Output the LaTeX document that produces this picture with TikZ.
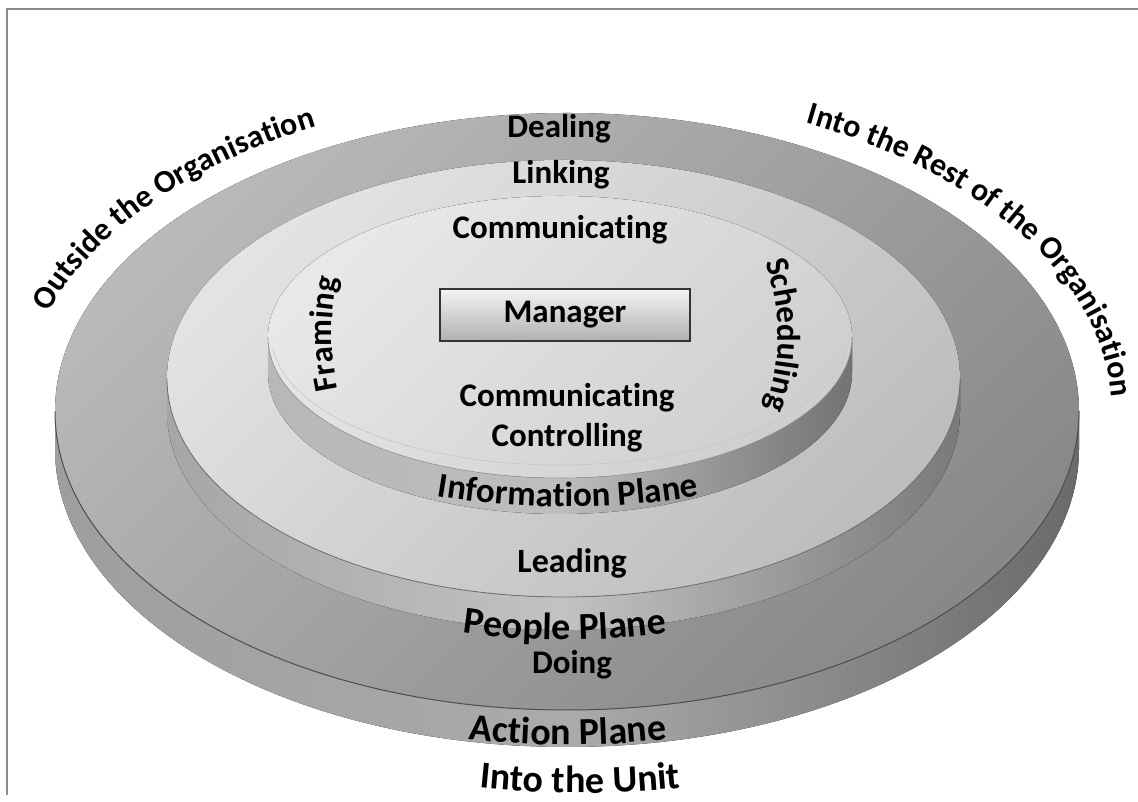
\documentclass[tikz,border=0pt]{standalone}
\usepackage{fontspec}
\setmainfont[Ligatures=NoCommon]{Carlito}
\usetikzlibrary{decorations.text}
\definecolor{framegray}{HTML}{8C8C8C}
\definecolor{outerTopL}{HTML}{B9B9B9}
\definecolor{outerTopD}{HTML}{888888}
\definecolor{outerBandL}{HTML}{9E9E9E}
\definecolor{outerBandM}{HTML}{ABABAB}
\definecolor{outerBandR}{HTML}{6A6A6A}
\definecolor{outerEdge}{HTML}{4E4E4E}
\definecolor{midTopL}{HTML}{E3E3E3}
\definecolor{midTopD}{HTML}{BDBDBD}
\definecolor{midBandL}{HTML}{A6A6A6}
\definecolor{midBandM}{HTML}{C2C2C2}
\definecolor{midBandR}{HTML}{7A7A7A}
\definecolor{midEdge}{HTML}{707070}
\definecolor{innTopL}{HTML}{E8E8E8}
\definecolor{innTopD}{HTML}{CFCFCF}
\definecolor{innBandL}{HTML}{B8B8B8}
\definecolor{innBandM}{HTML}{BDBDBD}
\definecolor{innBandR}{HTML}{737373}
\definecolor{innEdge}{HTML}{9A9A9A}
\definecolor{bevelgray}{HTML}{C6C6C6}
\definecolor{boxTop}{HTML}{F4F4F4}
\definecolor{boxBot}{HTML}{B0B0B0}
\definecolor{boxLine}{HTML}{333333}
\newcommand{\myfs}[1]{\fontsize{#1}{#1}\selectfont\bfseries}
\begin{document}
\begin{tikzpicture}[x=1pt,y=1pt,
  lbl/.style={anchor=base, inner sep=0pt, font=\myfs{33}},
  mgrbox/.style={draw=boxLine, line width=1.5pt, top color=boxTop, bottom color=boxBot,
    minimum width=250pt, minimum height=52pt, inner sep=0pt, font=\myfs{33}},
  arctext/.style={decorate, decoration={text along path, text align=#1}},
  arctext/.default=left]
\useasboundingbox (0,0) rectangle (1138,802);

% frame
\draw[framegray, line width=2pt] (7,7) -- (7,793) -- (1138,793);

% ---- outer disc (Action plane)
\fill[left color=outerBandL, right color=outerBandR, middle color=outerBandM]
  (55,390.5) -- (55,353.5) arc[start angle=180, end angle=360, x radius=512, y radius=298.5] -- (1079,390.5) -- cycle;
\fill[top color=outerTopL, bottom color=outerTopD, shading angle=45]
  (567,390.5) ellipse[x radius=512, y radius=298.5];
\draw[outerEdge, line width=1pt]
  (55,390.5) arc[start angle=180, end angle=360, x radius=512, y radius=298.5];

% ---- middle disc (People plane)
\fill[left color=midBandL, right color=midBandR, middle color=midBandM]
  (167,423.5) -- (167,390.5) arc[start angle=180, end angle=360, x radius=396.5, y radius=218.5] -- (960,423.5) -- cycle;
\fill[top color=midTopL, bottom color=midTopD, shading angle=45]
  (563.5,423.5) ellipse[x radius=396.5, y radius=218.5];
\draw[midEdge, line width=0.8pt]
  (167,423.5) arc[start angle=180, end angle=360, x radius=396.5, y radius=218.5];

% ---- inner disc (Information plane)
\fill[left color=innBandL, right color=innBandR, middle color=innBandM]
  (268,465) -- (268,429) arc[start angle=180, end angle=360, x radius=292, y radius=141] -- (852,465) -- cycle;
\fill[top color=innTopL, bottom color=innTopD, shading angle=45]
  (560,465) ellipse[x radius=292, y radius=141];
\draw[innEdge, line width=0.6pt]
  (268,465) arc[start angle=180, end angle=360, x radius=292, y radius=141];
\draw[bevelgray, line width=0.6pt]
  (273.1,453.84) arc[start angle=185, end angle=355, x radius=288, y radius=128];

% ---- manager box
\node[mgrbox] (mgr) at (565,487) {Manager};

% ---- straight labels
\node[lbl] (dealing) at (559,664) {Dealing};
\node[lbl] (linking) at (561,618) {Linking};
\node[lbl] (comm1) at (560,563) {Communicating};
\node[lbl] (comm2) at (567,395) {Communicating};
\node[lbl] (control) at (567,355) {Controlling};
\node[lbl, font=\myfs{34}] (leading) at (572,229) {Leading};
\node[lbl] (doing) at (572,128) {Doing};

% ---- curved labels
\path[arctext, decoration={text={|\myfs{32}|Outside the Organisation}}]
  (48.7,489.7) arc[start angle=162, end angle=100, x radius=545, y radius=321];
\path[arctext, decoration={text={|\myfs{32}|Into the Rest of the Organisation}}]
  (805.9,679.0) arc[start angle=64, end angle=-10, x radius=545, y radius=321];
\path[arctext=center, decoration={text={|\myfs{33}|Framing}}]
  (347.7,379.1) arc[start angle=200, end angle=160, radius=260];
\path[arctext=center, decoration={text={|\myfs{33}|Scheduling}}]
  (749.9,572) arc[start angle=30, end angle=-30, radius=210];
\path[arctext=center, decoration={text={|\myfs{35}|Information Plane}}]
  (360.9,322.3) arc[start angle=255, end angle=285, radius=800];
\path[arctext=center, decoration={text={|\myfs{38}|People Plane}}]
  (383.8,185.8) arc[start angle=255, end angle=285, radius=700];
\path[arctext=center, decoration={text={|\myfs{38}|Action Plane}}]
  (391.3,75.6) arc[start angle=258, end angle=282, radius=850];
\path[arctext=center, decoration={text={|\myfs{38}|Into the Unit}}]
  (406.4,24.2) arc[start angle=260, end angle=280, radius=1000];
\end{tikzpicture}
\end{document}
